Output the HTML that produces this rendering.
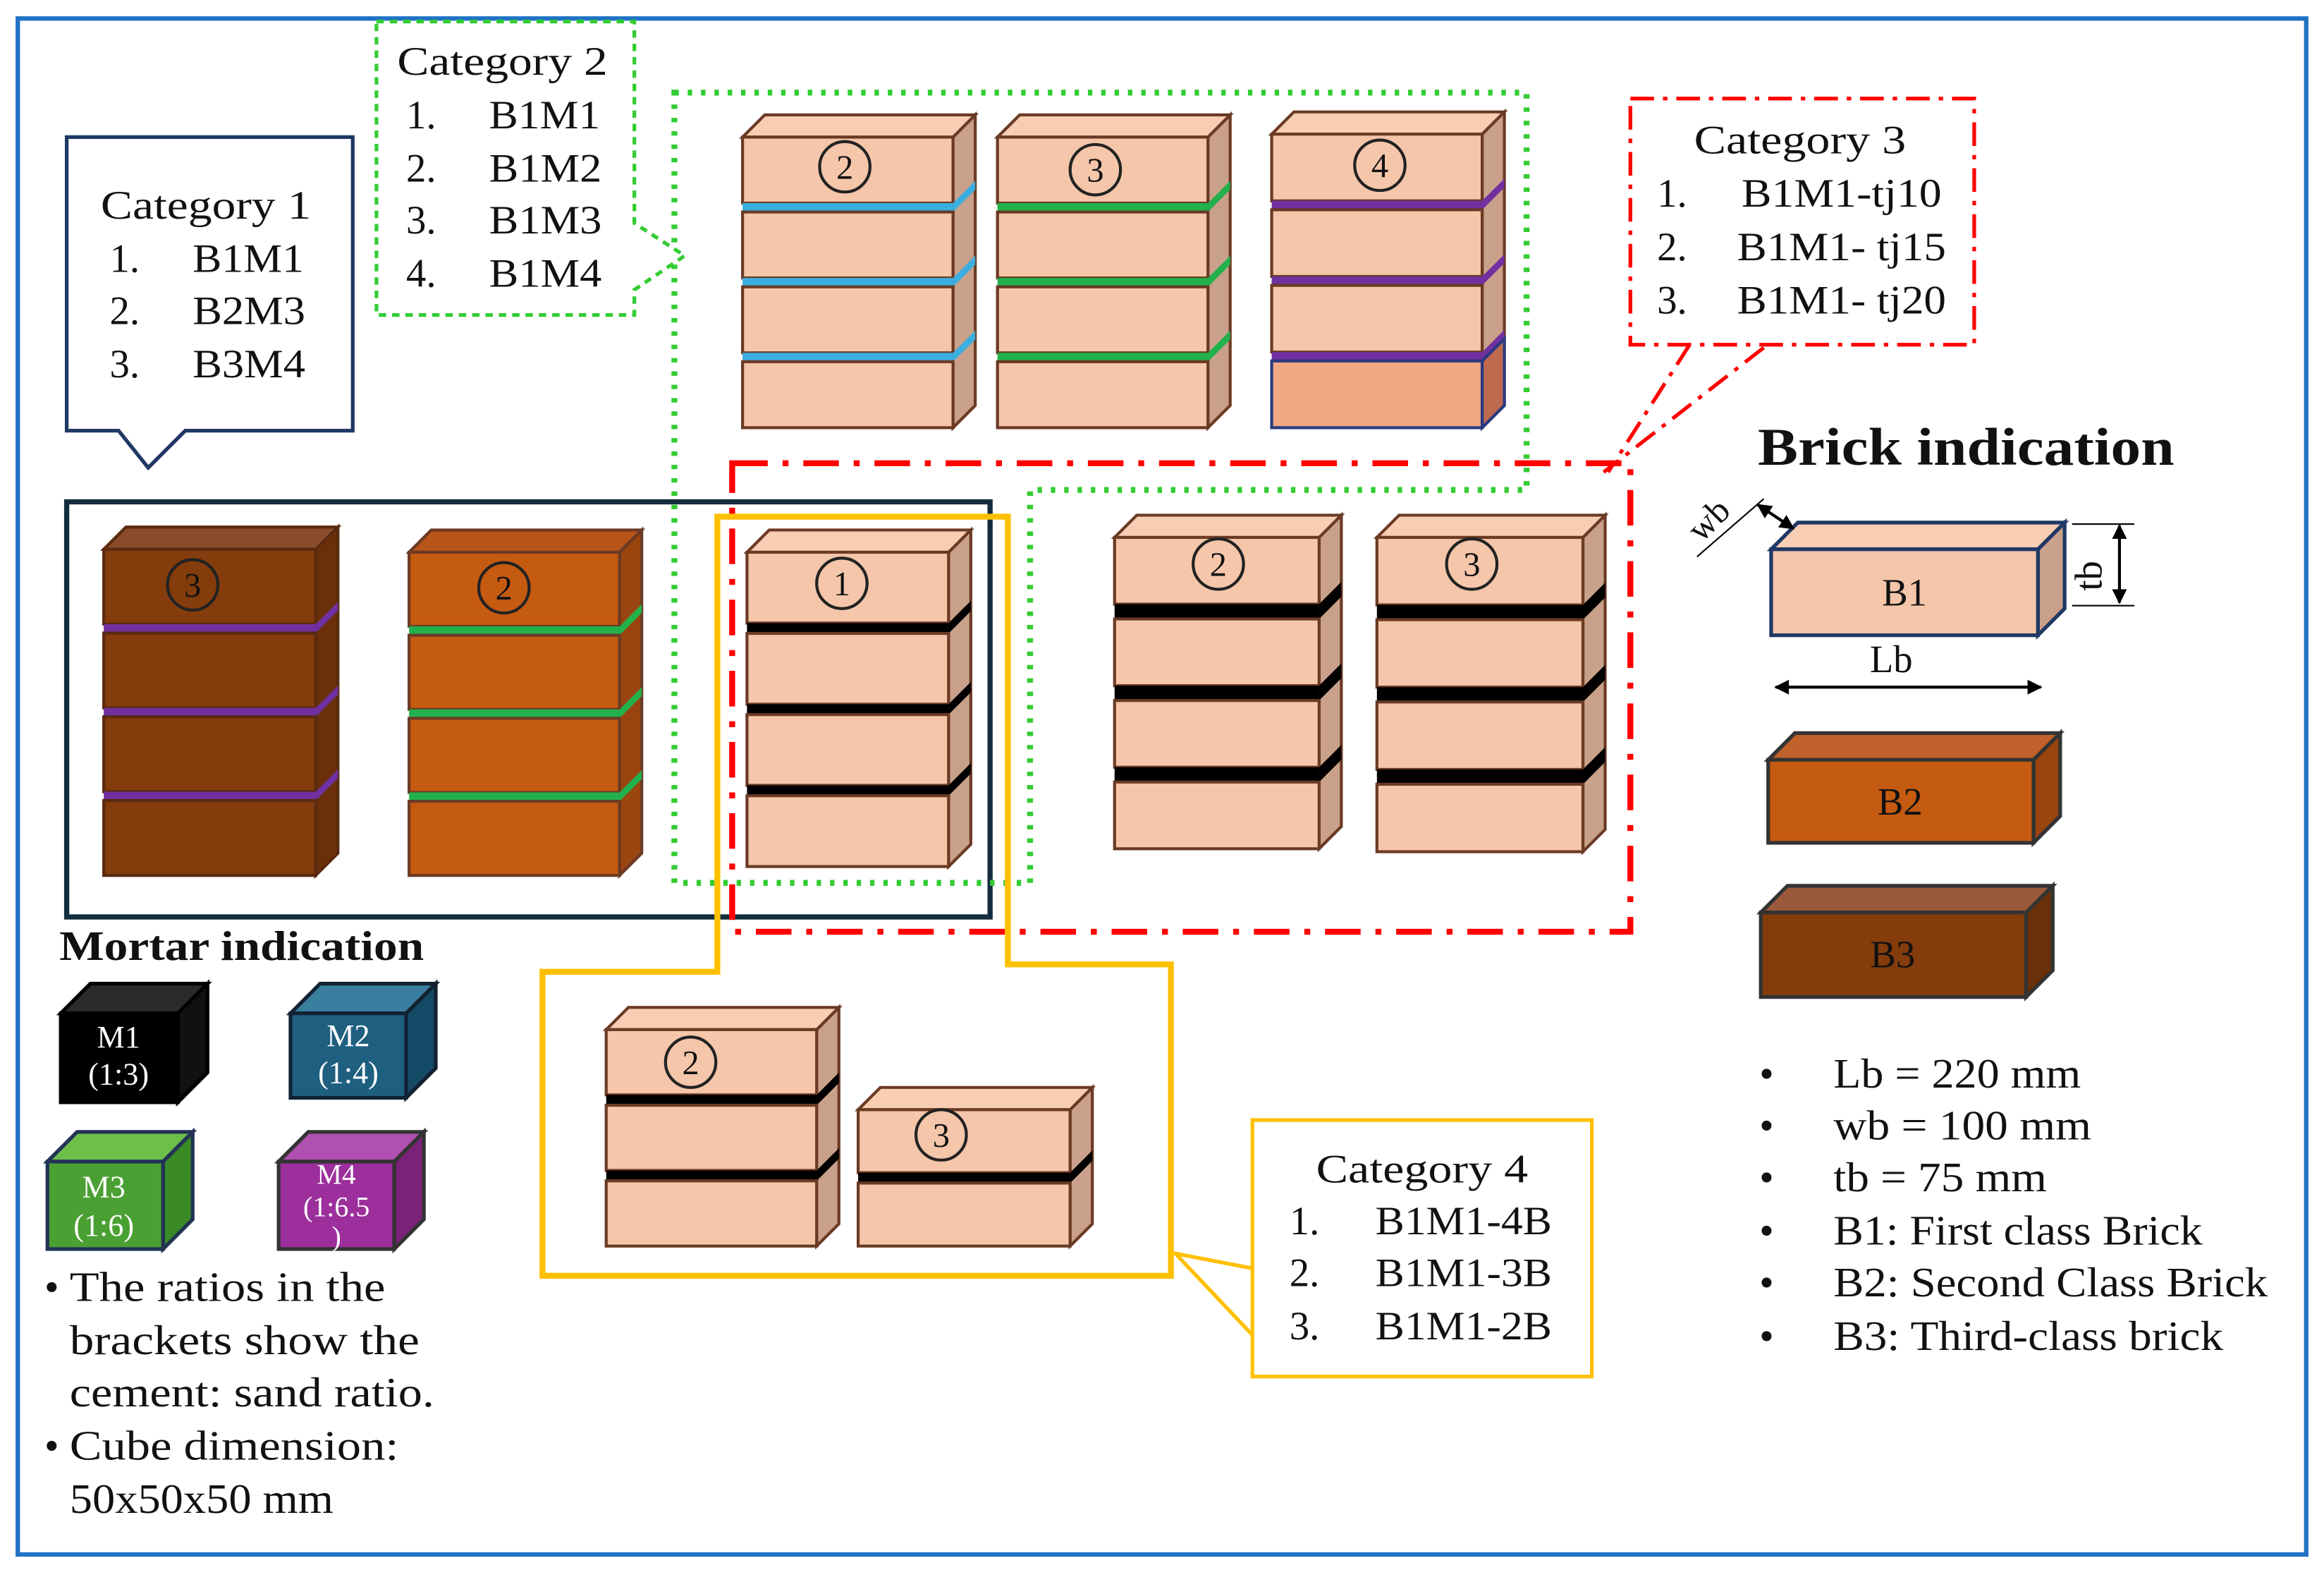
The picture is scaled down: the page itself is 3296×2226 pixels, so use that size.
<!DOCTYPE html>
<html><head><meta charset="utf-8"><style>
html,body{margin:0;padding:0;background:#fff;}
svg{display:block;}
text{font-family:"Liberation Serif",serif;}
</style></head><body>
<svg id="s" width="3296" height="2226" viewBox="0 0 1568 1058" xmlns="http://www.w3.org/2000/svg">
<rect x="0" y="0" width="1568" height="1058" fill="#fff"/>
<rect x="12" y="12" width="1544" height="1036" fill="none" stroke="#1f72c4" stroke-width="3"/>
<g id="bricks"></g>

<!-- frames -->
<rect x="45" y="338" width="623" height="280" fill="none" stroke="#132d3f" stroke-width="3.5"/>
<polygon points="455,62 1030,62 1030,330 695,330 695,595 455,595" fill="none" stroke="#33cc33" stroke-width="4" stroke-dasharray="3,6"/>
<rect x="494" y="312" width="606" height="316" fill="none" stroke="#ff0000" stroke-width="4" stroke-dasharray="24,10,4,10"/>
<polygon points="484,348 680,348 680,650 790,650 790,860 366,860 366,655 484,655" fill="none" stroke="#ffc000" stroke-width="4"/>

<!-- Category 1 -->
<path d="M45,92 H238 V290 H125 L100,315 L80,290 H45 Z" fill="#fff" stroke="#1f3864" stroke-width="2.5"/>
<g font-size="27" fill="#111" lengthAdjust="spacingAndGlyphs">
<text x="68" y="147" textLength="142" lengthAdjust="spacingAndGlyphs">Category 1</text>
<text x="74" y="183">1.</text><text x="130" y="183" textLength="75" lengthAdjust="spacingAndGlyphs">B1M1</text>
<text x="74" y="218">2.</text><text x="130" y="218" textLength="76" lengthAdjust="spacingAndGlyphs">B2M3</text>
<text x="74" y="254">3.</text><text x="130" y="254" textLength="76" lengthAdjust="spacingAndGlyphs">B3M4</text>
</g>
<!-- Category 2 -->
<path d="M254,14 H428 V150 L462,172 L428,195 V212 H254 Z" fill="#fff" stroke="#33cc33" stroke-width="2.5" stroke-dasharray="5,4"/>
<g font-size="27" fill="#111">
<text x="268" y="50" textLength="142" lengthAdjust="spacingAndGlyphs">Category 2</text>
<text x="274" y="86">1.</text><text x="330" y="86" textLength="75" lengthAdjust="spacingAndGlyphs">B1M1</text>
<text x="274" y="122">2.</text><text x="330" y="122" textLength="76" lengthAdjust="spacingAndGlyphs">B1M2</text>
<text x="274" y="157">3.</text><text x="330" y="157" textLength="76" lengthAdjust="spacingAndGlyphs">B1M3</text>
<text x="274" y="193">4.</text><text x="330" y="193" textLength="76" lengthAdjust="spacingAndGlyphs">B1M4</text>
</g>
<!-- Category 3 -->
<rect x="1100" y="66" width="232" height="166" fill="#fff" stroke="#ff0000" stroke-width="2.5" stroke-dasharray="16,6,3,6"/>
<line x1="1140" y1="232" x2="1085" y2="318" stroke="#ff0000" stroke-width="2.5" stroke-dasharray="16,6,3,6"/>
<line x1="1190" y1="234" x2="1082" y2="318" stroke="#ff0000" stroke-width="2.5" stroke-dasharray="16,6,3,6"/>
<g font-size="27" fill="#111">
<text x="1143" y="103" textLength="143" lengthAdjust="spacingAndGlyphs">Category 3</text>
<text x="1118" y="139">1.</text><text x="1175" y="139" textLength="135" lengthAdjust="spacingAndGlyphs">B1M1-tj10</text>
<text x="1118" y="175">2.</text><text x="1172" y="175" textLength="141" lengthAdjust="spacingAndGlyphs">B1M1- tj15</text>
<text x="1118" y="211">3.</text><text x="1172" y="211" textLength="141" lengthAdjust="spacingAndGlyphs">B1M1- tj20</text>
</g>
<!-- Category 4 -->
<rect x="845" y="755" width="229" height="173" fill="#fff" stroke="#ffc000" stroke-width="2.5"/>
<polyline points="845,855 793,845 845,900" fill="none" stroke="#ffc000" stroke-width="2.5"/>
<g font-size="27" fill="#111">
<text x="888" y="797" textLength="143" lengthAdjust="spacingAndGlyphs">Category 4</text>
<text x="870" y="832">1.</text><text x="928" y="832" textLength="119" lengthAdjust="spacingAndGlyphs">B1M1-4B</text>
<text x="870" y="867">2.</text><text x="928" y="867" textLength="119" lengthAdjust="spacingAndGlyphs">B1M1-3B</text>
<text x="870" y="903">3.</text><text x="928" y="903" textLength="119" lengthAdjust="spacingAndGlyphs">B1M1-2B</text>
</g>

<!-- Brick indication -->
<text x="1186" y="313" font-size="36" font-weight="bold" fill="#111" textLength="281" lengthAdjust="spacingAndGlyphs">Brick indication</text>
<g id="bi"></g>
<text x="1285" y="408" font-size="26" text-anchor="middle" fill="#111">B1</text>
<text x="1282" y="549" font-size="26" text-anchor="middle" fill="#111">B2</text>
<text x="1277" y="652" font-size="26" text-anchor="middle" fill="#111">B3</text>
<line x1="1198" y1="463" x2="1377" y2="463" stroke="#000" stroke-width="2" marker-start="url(#a)" marker-end="url(#a)"/>
<text x="1276" y="453" font-size="26" text-anchor="middle" fill="#111">Lb</text>
<line x1="1430" y1="354" x2="1430" y2="406" stroke="#000" stroke-width="2" marker-start="url(#a)" marker-end="url(#a)"/>
<line x1="1398" y1="353" x2="1440" y2="353" stroke="#000" stroke-width="1"/>
<line x1="1398" y1="408" x2="1440" y2="408" stroke="#000" stroke-width="1"/>
<text x="0" y="0" font-size="26" fill="#111" transform="translate(1418,398) rotate(-90)">tb</text>
<line x1="1186" y1="340" x2="1210" y2="356" stroke="#000" stroke-width="2" marker-start="url(#a)" marker-end="url(#a)"/>
<line x1="1145" y1="375" x2="1190" y2="336" stroke="#000" stroke-width="1"/>
<text x="0" y="0" font-size="24" fill="#111" transform="translate(1148,366) rotate(-45)">wb</text>
<defs><marker id="a" viewBox="0 0 10 10" refX="9" refY="5" markerWidth="5" markerHeight="5" orient="auto-start-reverse"><path d="M0,0 L10,5 L0,10 z" fill="#000"/></marker></defs>
<g font-size="28" fill="#111">
<text x="1187" y="733">•</text><text x="1237" y="733" textLength="167" lengthAdjust="spacingAndGlyphs">Lb = 220 mm</text>
<text x="1187" y="768">•</text><text x="1237" y="768" textLength="174" lengthAdjust="spacingAndGlyphs">wb = 100 mm</text>
<text x="1187" y="803">•</text><text x="1237" y="803" textLength="144" lengthAdjust="spacingAndGlyphs">tb = 75 mm</text>
<text x="1187" y="839">•</text><text x="1237" y="839" textLength="249" lengthAdjust="spacingAndGlyphs">B1: First class Brick</text>
<text x="1187" y="874">•</text><text x="1237" y="874" textLength="293" lengthAdjust="spacingAndGlyphs">B2: Second Class Brick</text>
<text x="1187" y="910">•</text><text x="1237" y="910" textLength="263" lengthAdjust="spacingAndGlyphs">B3: Third-class brick</text>
</g>

<!-- Mortar indication -->
<text x="40" y="647" font-size="28" font-weight="bold" fill="#111" textLength="246" lengthAdjust="spacingAndGlyphs">Mortar  indication</text>
<g id="mi"></g>
<g font-size="21" fill="#fff" text-anchor="middle">
<text x="80" y="706">M1</text><text x="80" y="731">(1:3)</text>
<text x="235" y="705">M2</text><text x="235" y="730">(1:4)</text>
<text x="70" y="807">M3</text><text x="70" y="833">(1:6)</text>
<text x="227" y="798" font-size="19">M4</text><text x="227" y="820" font-size="19">(1:6.5</text><text x="227" y="840" font-size="19">)</text>
</g>
<g font-size="28" fill="#111">
<text x="30" y="877">•</text><text x="47" y="877" textLength="213" lengthAdjust="spacingAndGlyphs">The ratios in the</text>
<text x="47" y="913" textLength="236" lengthAdjust="spacingAndGlyphs">brackets show the</text>
<text x="47" y="948" textLength="246" lengthAdjust="spacingAndGlyphs">cement: sand ratio.</text>
<text x="30" y="984">•</text><text x="47" y="984" textLength="222" lengthAdjust="spacingAndGlyphs">Cube dimension:</text>
<text x="47" y="1020" textLength="178" lengthAdjust="spacingAndGlyphs">50x50x50 mm</text>
</g>
<g id="circ"></g>
</svg>
<script>
const NS="http://www.w3.org/2000/svg";
function el(p,t,a){const e=document.createElementNS(NS,t);for(const k in a)e.setAttribute(k,a[k]);p.appendChild(e);return e;}
const B=document.getElementById('bricks');
function stack(x,y0,w,y1,n,mc,mt,c,d,lastFront,lastStroke){
 d=d||15;
 const H=y1-y0, bh=(H-(n-1)*mt)/n;
 el(B,'polygon',{points:`${x+w},${y0} ${x+w+d},${y0-d} ${x+w+d},${y1-d} ${x+w},${y1}`,fill:c.s,stroke:c.k,'stroke-width':2});
 el(B,'polygon',{points:`${x},${y0} ${x+d},${y0-d} ${x+w+d},${y0-d} ${x+w},${y0}`,fill:c.t,stroke:c.k,'stroke-width':2});
 for(let i=0;i<n;i++){
  const y=y0+i*(bh+mt);
  const last=(i==n-1&&lastFront);
  if(last&&lastStroke){
   const yy=y;
   el(B,'polygon',{points:`${x+w},${yy} ${x+w+d},${yy-d} ${x+w+d},${y1-d} ${x+w},${y1}`,fill:'#c06a50',stroke:lastStroke,'stroke-width':2});
  }
  el(B,'rect',{x:x,y:y,width:w,height:bh,fill:last?lastFront:c.f,stroke:last&&lastStroke?lastStroke:c.k,'stroke-width':2});
  if(i<n-1){
   const my=y+bh;
   el(B,'rect',{x:x,y:my,width:w,height:mt,fill:mc});
   el(B,'polygon',{points:`${x+w},${my} ${x+w+d},${my-d} ${x+w+d},${my-d+mt} ${x+w},${my+mt}`,fill:mc});
  }
 }
}
const SAL={f:'#f5c6aa',t:'#f7cdb3',s:'#c9a089',k:'#6b3a24'};
const B2C={f:'#c55a11',t:'#b8531a',s:'#9a4410',k:'#6b3a24'};
const B3C={f:'#843c0c',t:'#8a4b2a',s:'#6a300a',k:'#5a2a10'};
stack(501,92,142,288,4,'#3aaee0',6,SAL);
stack(673,92,142,288,4,'#22b14c',6,SAL);
stack(858,90,142,288,4,'#7030a0',6,SAL,15,'#f0a880','#2a3a80');
stack(70,370,143,590,4,'#7030a0',6,B3C);
stack(276,372,142,590,4,'#22b14c',6,B2C);
stack(504,372,136,584,4,'#000',7,SAL);
stack(752,362,138,572,4,'#000',10,SAL);
stack(929,362,139,574,4,'#000',10,SAL);
stack(409,694,142,840,3,'#000',7,SAL);
stack(579,748,143,840,2,'#000',7,SAL);
const C=document.getElementById('circ');
[[570,112,2],[739,114,3],[931,111,4],[130,394,3],[340,396,2],[568,393,1],[822,380,2],[993,380,3],[466,716,2],[635,765,3]].forEach(([x,y,n])=>{
 el(C,'circle',{cx:x,cy:y,r:17,fill:'none',stroke:'#222','stroke-width':2});
 const t=el(C,'text',{x:x,y:y+8,'text-anchor':'middle','font-size':23,fill:'#111'});t.textContent=n;
});
const BI=document.getElementById('bi');
function box(p,x,y,w,h,d,c){
 el(p,'polygon',{points:`${x+w},${y} ${x+w+d},${y-d} ${x+w+d},${y+h-d} ${x+w},${y+h}`,fill:c.s,stroke:c.k,'stroke-width':2.5});
 el(p,'polygon',{points:`${x},${y} ${x+d},${y-d} ${x+w+d},${y-d} ${x+w},${y}`,fill:c.t,stroke:c.k,'stroke-width':2.5});
 el(p,'rect',{x:x,y:y,width:w,height:h,fill:c.f,stroke:c.k,'stroke-width':2.5});
}
box(BI,1195,370,180,58,18,{f:'#f5c6aa',t:'#f7cdb3',s:'#c9a089',k:'#1f3864'});
box(BI,1193,512,179,56,18,{f:'#c55a11',t:'#c0602a',s:'#9a4410',k:'#333'});
box(BI,1188,615,179,57,18,{f:'#843c0c',t:'#9a5a3a',s:'#6a300a',k:'#333'});
const MI=document.getElementById('mi');
box(MI,41,683,79,60,20,{f:'#000',t:'#2a2a2a',s:'#111',k:'#000'});
box(MI,196,683,78,57,20,{f:'#1f5f80',t:'#3a7fa0',s:'#154a66',k:'#123'});
box(MI,32,783,78,59,20,{f:'#4aa033',t:'#6cc04a',s:'#3a8a28',k:'#235'});
box(MI,188,783,78,59,20,{f:'#9c2f9c',t:'#b050b0',s:'#7a2278',k:'#333'});
</script>
</body></html>
